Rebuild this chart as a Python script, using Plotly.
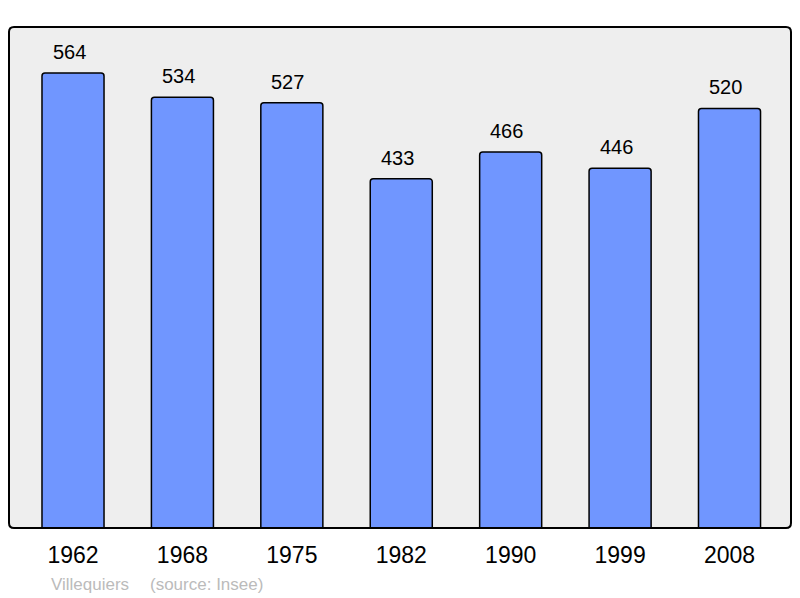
import plotly.graph_objects as go

years = ["1962", "1968", "1975", "1982", "1990", "1999", "2008"]
population = [564, 534, 527, 433, 466, 446, 520]
commune = "Villequiers"
source = "(source: Insee)"

FONT = "Liberation Sans, Arial, sans-serif"
W, H = 782.0, 501.0

fig = go.Figure()
fig.add_trace(go.Bar(
    x=years, y=population,
    marker=dict(color="#7096ff", line=dict(color="#000000", width=1.5), cornerradius=3),
    width=0.567,
    hoverinfo="skip",
))

for i, v in enumerate(population):
    fig.add_annotation(x=i, y=v, text=str(v), showarrow=False, xref="x", yref="y",
                       yanchor="middle", yshift=21, xshift=-4,
                       font=dict(family=FONT, size=20, color="#000000"))

# frame with rounded corners (paper coords)
rx, ry = 5 / W, 5 / H
path = (f"M {rx},0 L {1-rx},0 Q 1,0 1,{ry} L 1,{1-ry} Q 1,1 {1-rx},1 "
        f"L {rx},1 Q 0,1 0,{1-ry} L 0,{ry} Q 0,0 {rx},0 Z")
fig.add_shape(type="path", path=path, xref="paper", yref="paper",
              line=dict(color="#000000", width=2), layer="above")

for txt, px in ((commune, 49), (source, 148)):
    fig.add_annotation(text=txt, showarrow=False,
                       xref="paper", yref="paper", x=(px - 9) / W, y=-(584 - 528) / H,
                       xanchor="left", yanchor="middle",
                       font=dict(family=FONT, size=17, color="#bbbbbb"))

fig.update_layout(
    width=800, height=598,
    margin=dict(l=9, r=9, t=27, b=70),
    paper_bgcolor="#ffffff",
    plot_bgcolor="#eeeeee",
    showlegend=False,
    font=dict(family=FONT),
)
fig.update_xaxes(type="category", range=[-0.585, 6.562], showgrid=False, zeroline=False,
                 showline=False, ticks="", tickfont=dict(size=23, color="#000000"),
                 ticklabelstandoff=11)
fig.update_yaxes(range=[0, 621], showgrid=False, zeroline=False, showline=False,
                 showticklabels=False, ticks="")

fig.write_html("out.html", config={"displayModeBar": False},
               post_script="document.body.style.margin='0';")
